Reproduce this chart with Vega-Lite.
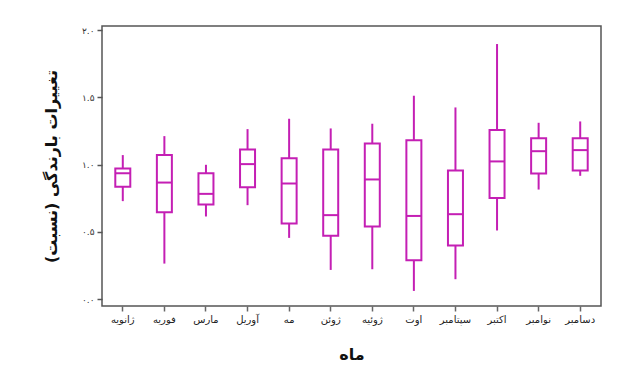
{
  "$schema": "https://vega.github.io/schema/vega-lite/v6.json",
  "width": 499,
  "height": 280,
  "autosize": {"type": "none"},
  "padding": {"left": 102, "top": 26, "right": 28, "bottom": 75},
  "background": "white",
  "config": {
    "font": "DejaVu Sans",
    "view": {"stroke": "#555555", "strokeWidth": 1.5},
    "axis": {"grid": false}
  },
  "data": {
    "values": [
      {"month": "ژانویه", "order": 1, "min": 0.729, "q1": 0.835, "median": 0.937, "q3": 0.972, "max": 1.071},
      {"month": "فوریه", "order": 2, "min": 0.265, "q1": 0.647, "median": 0.867, "q3": 1.071, "max": 1.212},
      {"month": "مارس", "order": 3, "min": 0.615, "q1": 0.704, "median": 0.783, "q3": 0.937, "max": 0.999},
      {"month": "آوریل", "order": 4, "min": 0.699, "q1": 0.833, "median": 1.004, "q3": 1.113, "max": 1.264},
      {"month": "مه", "order": 5, "min": 0.456, "q1": 0.563, "median": 0.86, "q3": 1.048, "max": 1.341},
      {"month": "ژوئن", "order": 6, "min": 0.218, "q1": 0.471, "median": 0.625, "q3": 1.113, "max": 1.269},
      {"month": "ژوئیه", "order": 7, "min": 0.223, "q1": 0.54, "median": 0.89, "q3": 1.158, "max": 1.304},
      {"month": "اوت", "order": 8, "min": 0.062, "q1": 0.29, "median": 0.619, "q3": 1.182, "max": 1.512},
      {"month": "سپتامبر", "order": 9, "min": 0.149, "q1": 0.399, "median": 0.632, "q3": 0.957, "max": 1.425},
      {"month": "اکتبر", "order": 10, "min": 0.511, "q1": 0.753, "median": 1.024, "q3": 1.257, "max": 1.896},
      {"month": "نوامبر", "order": 11, "min": 0.815, "q1": 0.934, "median": 1.1, "q3": 1.197, "max": 1.311},
      {"month": "دسامبر", "order": 12, "min": 0.917, "q1": 0.957, "median": 1.108, "q3": 1.197, "max": 1.321}
    ]
  },
  "encoding": {
    "x": {
      "field": "month",
      "type": "nominal",
      "sort": {"field": "order"},
      "scale": {"type": "band", "paddingInner": 0, "paddingOuter": 0},
      "axis": {
        "title": "ماه",
        "titleFont": "DejaVu Sans",
        "titleFontSize": 16,
        "titleFontWeight": "bold",
        "titleColor": "#111111",
        "titlePadding": 22,
        "labelAngle": 0,
        "labelFontSize": 10,
        "labelColor": "#222222",
        "labelPadding": 3,
        "tickSize": 5,
        "tickColor": "#666666",
        "tickWidth": 1.5,
        "domain": false,
        "bandPosition": 0.5
      }
    }
  },
  "layer": [
    {
      "mark": {"type": "rule", "color": "#c41fb4", "strokeWidth": 2},
      "encoding": {
        "y": {
          "field": "min",
          "type": "quantitative",
          "scale": {"domain": [-0.05, 2.03], "nice": false, "zero": false},
          "axis": {
            "title": "تغییرات بارندگی (نسبت)",
            "titleFont": "DejaVu Sans",
            "titleFontSize": 16,
            "titleFontWeight": "bold",
            "titleColor": "#111111",
            "titlePadding": 22,
            "values": [0, 0.5, 1, 1.5, 2],
            "labelExpr": "datum.value == 2 ? '۲.۰' : datum.value == 1.5 ? '۱.۵' : datum.value == 1 ? '۱.۰' : datum.value == 0.5 ? '۰.۵' : '۰.۰'",
            "labelFontSize": 9,
            "labelColor": "#333333",
            "labelPadding": 3,
            "tickSize": 5,
            "tickColor": "#555555",
            "tickWidth": 1.5,
            "domain": false
          }
        },
        "y2": {"field": "max"}
      }
    },
    {
      "mark": {"type": "bar", "size": 15, "fill": "white", "stroke": "#c41fb4", "strokeWidth": 2},
      "encoding": {
        "y": {"field": "q1", "type": "quantitative"},
        "y2": {"field": "q3"}
      }
    },
    {
      "mark": {"type": "tick", "size": 15, "thickness": 2, "color": "#c41fb4", "opacity": 1, "orient": "horizontal"},
      "encoding": {
        "y": {"field": "median", "type": "quantitative"}
      }
    }
  ]
}
